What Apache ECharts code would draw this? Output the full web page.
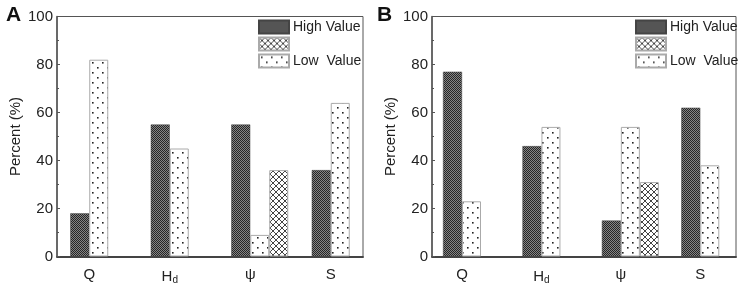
<!DOCTYPE html>
<html>
<head>
<meta charset="utf-8">
<script src="https://cdn.jsdelivr.net/npm/echarts@6/dist/echarts.min.js"></script>
<style>
  html, body { margin: 0; padding: 0; background: #fff; }
  #chart { width: 740px; height: 287px; }
</style>
</head>
<body>
<div id="chart"></div>
<script>
// categories and values
var categories = ['Q', 'Hd', 'ψ', 'S'];
var yTicks = [0, 20, 40, 60, 80, 100];

var highA = [18, 55, 55, 36];
var lowA  = [82, 45, 9, 64];
var midA  = [null, null, 36, null];

var highB = [77, 46, 15, 62];
var lowB  = [23, 54, 54, 38];
var midB  = [null, null, 31, null];

var FONT = '"Liberation Sans", Arial, sans-serif';

// small canvas tiles used as fill patterns
function makePattern(kind) {
  var c = document.createElement('canvas');
  var ctx;
  if (kind === 'dark') {
    c.width = 2; c.height = 2;
    ctx = c.getContext('2d');
    ctx.fillStyle = '#858585';
    ctx.fillRect(0, 0, 2, 2);
    ctx.fillStyle = '#262626';
    ctx.fillRect(0, 0, 1, 1);
    ctx.fillRect(1, 1, 1, 1);
  } else if (kind === 'dots') {
    c.width = 10; c.height = 10;
    ctx = c.getContext('2d');
    ctx.fillStyle = '#fff';
    ctx.fillRect(0, 0, 10, 10);
    ctx.fillStyle = '#222';
    ctx.fillRect(2, 2, 1.6, 1.6);
    ctx.fillRect(7, 7, 1.6, 1.6);
  } else {
    c.width = 6; c.height = 6;
    ctx = c.getContext('2d');
    ctx.fillStyle = '#fff';
    ctx.fillRect(0, 0, 6, 6);
    ctx.strokeStyle = '#444';
    ctx.lineWidth = 1;
    ctx.beginPath();
    ctx.moveTo(0, 0); ctx.lineTo(6, 6);
    ctx.moveTo(6, 0); ctx.lineTo(0, 6);
    ctx.stroke();
  }
  return { image: c, repeat: 'repeat' };
}

var darkFill = makePattern('dark');
var dotFill = makePattern('dots');
var crossFill = makePattern('cross');

var chart = echarts.init(document.getElementById('chart'));

// frame grids (box + y axis) and bar grids (category axis) per panel
var frames = [
  { left: 57, top: 16.5, width: 306, height: 240 },
  { left: 432, top: 16.5, width: 304, height: 240 }
];
var barGrids = [
  { left: 49, top: 16.5, width: 322, height: 240 },
  { left: 422.3, top: 16.5, width: 323, height: 240 }
];

function frameGrid(f) {
  return {
    left: f.left, top: f.top, width: f.width, height: f.height,
    show: true, borderColor: '#555', borderWidth: 1, backgroundColor: 'transparent'
  };
}

function catLabel(v) {
  return v === 'Hd' ? 'H{sub|d}' : v;
}

var xAxes = [];
var yAxes = [];
var series = [];
var panels = [
  { high: highA, low: lowA, mid: midA },
  { high: highB, low: lowB, mid: midB }
];

panels.forEach(function (p, i) {
  var fi = i * 2, bi = i * 2 + 1;
  // frame axes
  xAxes.push({
    gridIndex: fi, type: 'value', min: 0, max: 1,
    axisLine: { show: true, lineStyle: { color: '#444', width: 2 } },
    axisTick: { show: false }, axisLabel: { show: false }, splitLine: { show: false }
  });
  yAxes.push({
    gridIndex: fi, type: 'value', min: 0, max: 100, interval: 20,
    name: 'Percent (%)', nameLocation: 'middle', nameGap: 34,
    nameTextStyle: { fontFamily: FONT, fontSize: 15, color: '#222' },
    axisLine: { show: true, lineStyle: { color: '#555', width: 1.5 } },
    axisTick: { show: true, inside: true, length: 3, lineStyle: { color: '#555' } },
    minorTick: { show: true, splitNumber: 2, length: 2, lineStyle: { color: '#555' } },
    axisLabel: { margin: 4, fontFamily: FONT, fontSize: 15, color: '#222' },
    splitLine: { show: false }
  });
  // bar axes
  xAxes.push({
    gridIndex: bi, type: 'category', data: categories,
    axisLine: { show: false }, axisTick: { show: false },
    axisLabel: {
      margin: 11, fontFamily: FONT, fontSize: 15, color: '#222',
      formatter: catLabel,
      rich: { sub: { fontFamily: FONT, fontSize: 10, color: '#222', padding: [8, 0, 0, 0] } }
    }
  });
  yAxes.push({
    gridIndex: bi, type: 'value', min: 0, max: 100, show: false
  });

  var common = { type: 'bar', xAxisIndex: bi, yAxisIndex: bi, barWidth: 19, barGap: '0%', animation: false };
  series.push(Object.assign({}, common, { name: 'blank', data: [null, null, null, null] }));
  series.push(Object.assign({}, common, {
    name: 'High Value', data: p.high,
    itemStyle: { color: darkFill, borderColor: '#444', borderWidth: 0.5 }
  }));
  series.push(Object.assign({}, common, {
    name: 'Low  Value', data: p.low,
    itemStyle: { color: dotFill, borderColor: '#aaa', borderWidth: 1 }
  }));
  series.push(Object.assign({}, common, {
    name: 'Mid', data: p.mid,
    itemStyle: { color: crossFill, borderColor: '#aaa', borderWidth: 1 }
  }));
});

function legendAt(left) {
  return {
    left: left, top: 19.5, orient: 'vertical', padding: 0,
    icon: 'rect', itemWidth: 30, itemHeight: 13, itemGap: 2,
    data: ['High Value', 'Mid', 'Low  Value'],
    formatter: function (n) { return n === 'Mid' ? '' : n; },
    textStyle: { fontFamily: FONT, fontSize: 14, color: '#222', padding: [0, 0, 0, -1] },
    selectedMode: false
  };
}

chart.setOption({
  animation: false,
  title: [
    { text: 'A', left: 1, top: 0, textStyle: { fontFamily: FONT, fontSize: 21, fontWeight: 'bold', color: '#111' } },
    { text: 'B', left: 372, top: 0, textStyle: { fontFamily: FONT, fontSize: 21, fontWeight: 'bold', color: '#111' } }
  ],
  legend: [legendAt(258), legendAt(635)],
  grid: [frameGrid(frames[0]), barGrids[0], frameGrid(frames[1]), barGrids[1]],
  xAxis: xAxes,
  yAxis: yAxes,
  series: series
});
</script>
</body>
</html>
